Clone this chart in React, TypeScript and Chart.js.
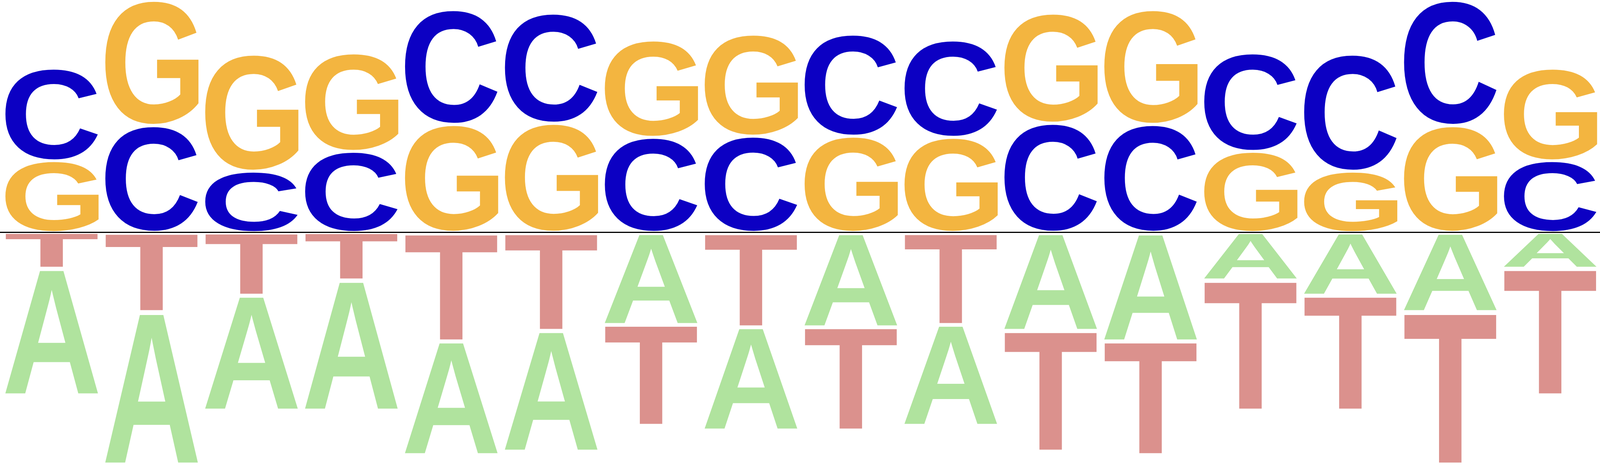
import { useEffect, useRef } from 'react';
import Chart from 'chart.js/auto';

// sequence positions (x axis, hidden)
const positions = [0, 1, 2, 3, 4, 5, 6, 7, 8, 9, 10, 11, 12, 13, 14, 15];

// letter heights per position (positive = above the line)
const cValues = [0.79, 0.91, 0.52, 0.69, 0.98, 0.94, 0.81, 0.82, 0.87, 0.83, 0.93, 0.92, 0.84, 1.0, 1.07, 0.61];
const gValues = [0.61, 1.07, 1.0, 0.84, 0.92, 0.93, 0.83, 0.87, 0.82, 0.81, 0.94, 0.98, 0.69, 0.52, 0.91, 0.79];
// below the line
const aValues = [-1.08, -1.3, -0.98, -1.11, -0.97, -1.03, -0.78, -0.88, -0.8, -0.86, -0.83, -0.92, -0.4, -0.53, -0.67, -0.3];
const tValues = [-0.3, -0.67, -0.53, -0.4, -0.92, -0.83, -0.86, -0.8, -0.88, -0.78, -1.03, -0.97, -1.11, -0.98, -1.3, -1.08];

const letters = ['A', 'C', 'G', 'T'];
const letterColors: Record<string, string> = {
  A: '#b0e39e',
  C: '#0c00c3',
  G: '#f3b540',
  T: '#db918d',
};

const Y_MIN = -2.018;
const Y_MAX = 1.982;
const GLYPH_PAD = 2;

// stack letters per column: smallest magnitude nearest the baseline
function buildRanges() {
  const values: Record<string, number[]> = { A: aValues, C: cValues, G: gValues, T: tValues };
  const ranges: Record<string, [number, number][]> = { A: [], C: [], G: [], T: [] };
  positions.forEach((_, i) => {
    const col = letters.map(l => ({ l, v: values[l][i] }));
    const above = col.filter(c => c.v >= 0).sort((a, b) => a.v - b.v);
    const below = col.filter(c => c.v < 0).sort((a, b) => b.v - a.v);
    let floor = 0;
    above.forEach(c => {
      ranges[c.l][i] = [floor, floor + c.v];
      floor += c.v;
    });
    let ceil = 0;
    below.forEach(c => {
      ranges[c.l][i] = [ceil + c.v, ceil];
      ceil += c.v;
    });
  });
  return ranges;
}

// stretch a glyph so its ink fills the box
function drawGlyph(ctx: CanvasRenderingContext2D, ch: string, color: string, left: number, top: number, w: number, h: number) {
  if (w <= 0 || h <= 0) return;
  ctx.save();
  ctx.font = 'bold 400px "Liberation Sans", Arial, sans-serif';
  ctx.textAlign = 'left';
  ctx.textBaseline = 'alphabetic';
  const m = ctx.measureText(ch);
  const gw = m.actualBoundingBoxLeft + m.actualBoundingBoxRight;
  const gh = m.actualBoundingBoxAscent + m.actualBoundingBoxDescent;
  ctx.translate(left, top);
  ctx.scale(w / gw, h / gh);
  ctx.fillStyle = color;
  ctx.fillText(ch, m.actualBoundingBoxLeft, m.actualBoundingBoxAscent);
  ctx.restore();
}

const logoPlugin = {
  id: 'logoGlyphs',
  beforeDatasetsDraw(chart: any) {
    const { ctx, chartArea } = chart;
    const y0 = chart.scales.y.getPixelForValue(0);
    ctx.save();
    ctx.strokeStyle = '#000000';
    ctx.lineWidth = 3;
    ctx.beginPath();
    ctx.moveTo(0, y0);
    ctx.lineTo(chartArea.right, y0);
    ctx.stroke();
    ctx.restore();
  },
  afterDatasetsDraw(chart: any) {
    const ctx = chart.ctx;
    chart.data.datasets.forEach((ds: any, di: number) => {
      const meta = chart.getDatasetMeta(di);
      meta.data.forEach((bar: any) => {
        const { x, y, base, width } = bar.getProps(['x', 'y', 'base', 'width'], true);
        const top = Math.min(y, base) + GLYPH_PAD;
        const bottom = Math.max(y, base) - GLYPH_PAD;
        drawGlyph(ctx, ds.label, letterColors[ds.label], x - width / 2, top, width, bottom - top);
      });
    });
  },
};

const SequenceLogo = () => {
  const canvasRef = useRef<HTMLCanvasElement | null>(null);
  const chartRef = useRef<Chart | null>(null);

  useEffect(() => {
    if (!canvasRef.current) return;
    const ctx = canvasRef.current.getContext('2d');
    if (!ctx) return;
    if (chartRef.current) chartRef.current.destroy();

    const ranges = buildRanges();

    chartRef.current = new Chart(ctx, {
      type: 'bar',
      data: {
        labels: positions.map(String),
        datasets: letters.map(l => ({
          label: l,
          data: ranges[l],
          backgroundColor: 'rgba(0,0,0,0)',
          borderWidth: 0,
          grouped: false,
          barPercentage: 0.95,
          categoryPercentage: 1.0,
        })),
      },
      options: {
        responsive: true,
        maintainAspectRatio: false,
        animation: false,
        events: [],
        layout: { padding: { left: 4, right: 0, top: 0, bottom: 0 } },
        scales: {
          x: { display: false },
          y: { display: false, min: Y_MIN, max: Y_MAX },
        },
        plugins: {
          legend: { display: false },
          tooltip: { enabled: false },
          title: { display: false },
        },
      },
      plugins: [logoPlugin],
    } as any);

    return () => {
      if (chartRef.current) {
        chartRef.current.destroy();
        chartRef.current = null;
      }
    };
  }, []);

  // the viewport is what gets photographed, so fill it
  return (
    <div style={{ position: 'absolute', left: 0, top: 0, width: '100vw', height: '100vh', background: '#ffffff' }}>
      <canvas ref={canvasRef} />
    </div>
  );
};

export default function App() {
  return <SequenceLogo />;
}
